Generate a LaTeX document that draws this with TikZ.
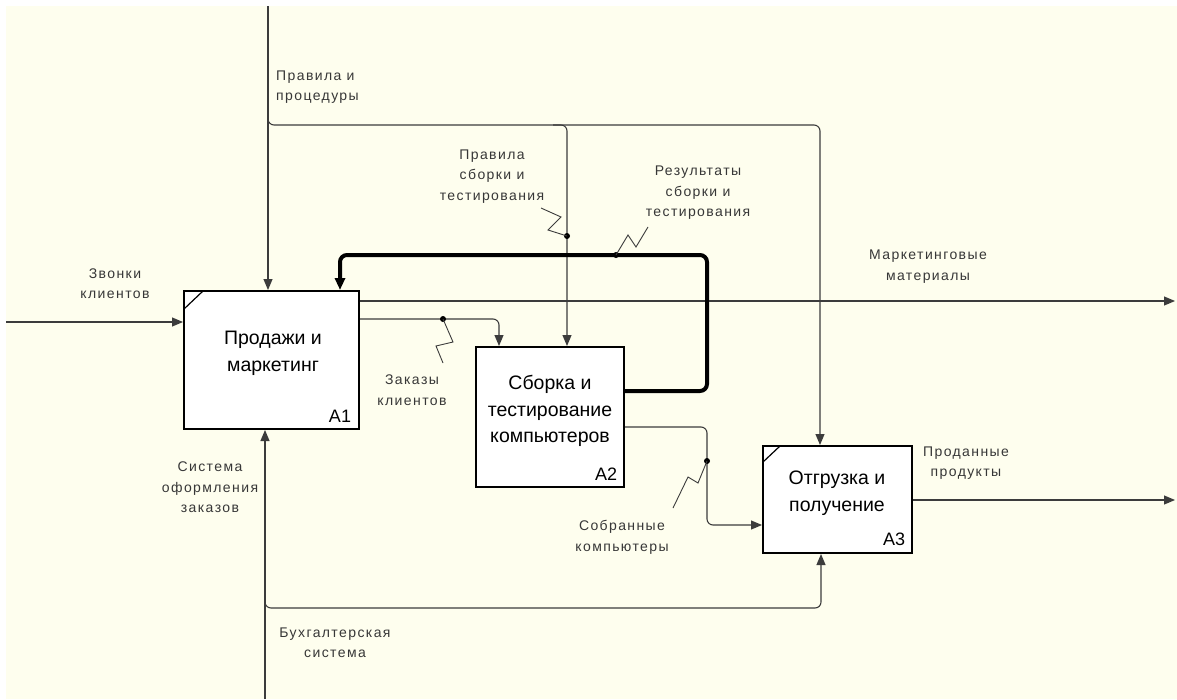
\documentclass[tikz,border=0pt]{standalone}
\usepackage{fontspec}
\setmainfont{Liberation Sans}
\newfontfamily\lblfont[LetterSpace=10]{Liberation Sans}
\usetikzlibrary{arrows.meta,calc}
\definecolor{cream}{RGB}{254,254,238}
\definecolor{lblgray}{RGB}{55,55,55}
\definecolor{linegray}{RGB}{60,60,60}
\begin{document}
\begin{tikzpicture}[x=1pt,y=-1pt,
  flow/.style={draw=linegray,line width=1.1pt,rounded corners=6pt},
  arr/.style={-{Triangle[length=11pt,width=9pt]}},
  thickflow/.style={draw=black,line width=4pt,rounded corners=7pt},
  zig/.style={draw=linegray,line width=0.9pt},
  fnbox/.style={draw=black,line width=2pt,fill=white,inner sep=0pt},
  boxtext/.style={font=\fontsize{19.5}{26.5}\selectfont,align=center,inner sep=0pt,text=black},
  idlabel/.style={font=\fontsize{18}{20}\selectfont,inner sep=0pt,text=black},
  lbl/.style={font=\lblfont\fontsize{14}{20.5}\selectfont,align=center,inner sep=0pt,text=lblgray},
  dotmark/.style={fill=black}
]
\useasboundingbox (0,0) rectangle (1177,699);
\fill[white] (0,0) rectangle (1177,699);
\fill[cream] (6,6) rectangle (1177,699);

% function boxes
\node[fnbox,minimum width=175pt,minimum height=138pt] (A1) at (271.5,360) {};
\node[fnbox,minimum width=148pt,minimum height=140pt] (A2) at (550,417) {};
\node[fnbox,minimum width=149pt,minimum height=107pt] (A3) at (837.5,499.5) {};

\draw[black,line width=1.2pt] ($(A1.north west)+(1,19)$) -- ($(A1.north west)+(20,1)$);
\draw[black,line width=1.2pt] ($(A3.north west)+(1,17)$) -- ($(A3.north west)+(18,1)$);

\node[boxtext] (A1t) at (273,353.5) {Продажи и\\маркетинг};
\node[boxtext] (A2t) at (550,411) {Сборка и\\тестирование\\компьютеров};
\node[boxtext] (A3t) at (837,493) {Отгрузка и\\получение};
\node[idlabel] (A1n) at ($(A1.south east)+(-20,-14)$) {A1};
\node[idlabel] (A2n) at ($(A2.south east)+(-19,-14)$) {A2};
\node[idlabel] (A3n) at ($(A3.south east)+(-19,-15)$) {A3};

% coordinates
\coordinate (ctop) at (268,6);
\coordinate (cjA) at (268,110);
\coordinate (cj) at (268,125);
\coordinate (cA3) at (820,125);
\coordinate (cj2a) at (553,125);
\coordinate (cA2) at (567,125);
\coordinate (inL) at (6,322);
\coordinate (mktR) at (1175,301);
\coordinate (soldR) at (1175,500);
\coordinate (mbot) at (265,699);
\coordinate (mjA) at (265,595);
\coordinate (mj) at (265,608);
\coordinate (mA3) at (821,608);
\coordinate (ordT) at (499,319);
\coordinate (fbR1) at (707,391);
\coordinate (fbR2) at (707,255);
\coordinate (fbL) at (340,255);
\coordinate (asT) at (707,427);
\coordinate (asB) at (707,525);

% controls
\draw[flow,arr] (ctop) -- (ctop |- A1.north);
\draw[flow,arr] (cjA) -- (cj) -- (cA3) -- (cA3 |- A3.north);
\draw[flow,arr] (cj2a) -- (cA2) -- (cA2 |- A2.north);

% input
\draw[flow,arr] (inL) -- (inL -| A1.west);

% outputs of A1
\draw[flow,arr] (A1.east |- mktR) -- (mktR);
\draw[flow,arr] (A1.east |- ordT) -- (ordT) -- (ordT |- A2.north);

% feedback (thick)
\draw[thickflow,-{Triangle[length=12pt,width=10pt]}] (A2.east |- fbR1) -- (fbR1) -- (fbR2) -- (fbL) -- (fbL |- A1.north);

% A2 output to A3
\draw[flow,arr] (A2.east |- asT) -- (asT) -- (asB) -- (asB -| A3.west);

% A3 output
\draw[flow,arr] (A3.east |- soldR) -- (soldR);

% mechanisms
\draw[flow,arr] (mbot) -- (mbot |- A1.south);
\draw[flow,arr] (mjA) -- (mj) -- (mA3) -- (mA3 |- A3.south);

% dots
\coordinate (d1) at (443,319);
\coordinate (d2) at (567,236);
\coordinate (d3) at (616,255);
\coordinate (d4) at (707,461);
\fill[dotmark] (d1) circle (3pt);
\fill[dotmark] (d2) circle (3pt);
\fill[dotmark] (d3) circle (3pt);
\fill[dotmark] (d4) circle (3pt);

% squiggles
\coordinate (z1) at (443,363);
\coordinate (z2) at (541,208);
\coordinate (z3) at (648,227);
\coordinate (z4) at (673,508);
\draw[zig] (d1) -- (453,342) -- (436,346) -- (z1);
\draw[zig] (d2) -- (548,230) -- (561,217) -- (z2);
\draw[zig] (d3) -- (628,235) -- (636,247) -- (z3);
\draw[zig] (d4) -- (698,483) -- (688,477) -- (z4);

% labels
\node[lbl,align=left,anchor=west] (lPP) at (276,87) {Правила и\\процедуры};
\node[lbl] (lPS) at (492,176.5) {Правила\\сборки и\\тестирования};
\node[lbl] (lRS) at (698,193) {Результаты\\сборки и\\тестирования};
\node[lbl] (lZK) at (115,283.5) {Звонки\\клиентов};
\node[lbl] (lMM) at (928,266.5) {Маркетинговые\\материалы};
\node[lbl] (lZA) at (412,390) {Заказы\\клиентов};
\node[lbl] (lSO) at (210,487.5) {Система\\оформления\\заказов};
\node[lbl] (lSK) at (622,537.5) {Собранные\\компьютеры};
\node[lbl] (lPR) at (966,463) {Проданные\\продукты};
\node[lbl] (lBS) at (335,642.5) {Бухгалтерская\\система};
\end{tikzpicture}
\end{document}
